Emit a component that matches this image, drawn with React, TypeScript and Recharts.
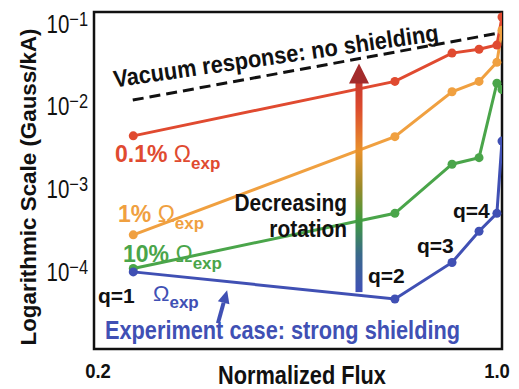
import React from "react";
import {
  LineChart,
  Line,
  XAxis,
  YAxis,
  ReferenceArea,
  ReferenceLine,
} from "recharts";

// normalized flux positions of the rational surfaces
const flux = [0.277, 0.79, 0.902, 0.955, 0.99, 1.0];

// response per rotation case (Gauss/kA)
const rot01 = [4.4e-3, 2.0e-2, 4.4e-2, 4.9e-2, 5.5e-2, 0.12];
const rot1 = [2.8e-4, 4.3e-3, 1.5e-2, 2.0e-2, 3.4e-2, 8.3e-2];
const rot10 = [1.1e-4, 5.1e-4, 2.0e-3, 2.4e-3, 1.9e-2, 1.6e-2];
const rotExp = [1.0e-4, 4.7e-5, 1.3e-4, 3.1e-4, 5.1e-4, 3.8e-3];

// vacuum (no shielding) reference
const vacuumFlux = [0.276, 0.995];
const vacuumVals = [1.19e-2, 7.7e-2];

const yTicks = [1e-4, 1e-3, 1e-2, 1e-1];
const yExponents = ["4", "3", "2", "1"];
const xTicks = [0.2, 1.0];
const xTickLabels = ["0.2", "1.0"];
const yDomain = [1.17e-5, 0.138];
const xDomain = [0.2, 1.0];

// annotation arrows (flux, value)
const bigArrow = { x: 0.7196, yFrom: 5.7e-5, yTo: 3.3e-2 };
const expArrow = { xFrom: 0.443, yFrom: 2.4e-5, xTo: 0.461, yTo: 6.0e-5 };

const FONT = "'Liberation Sans', Arial, sans-serif";

const RED = "#e04a30";
const ORANGE = "#f0a040";
const GREEN = "#4aa54a";
const BLUE = "#4050b4";

const toPoints = (xs: number[], ys: number[]) =>
  xs.map((x, i) => ({ x, y: ys[i] }));

// bold text squeezed horizontally, to get the condensed look of the figure
const NText = ({ x, y, sx = 0.85, size, fill = "#111", anchor = "start", rotate = 0, weight = "bold", children }: any) => (
  <text
    transform={`translate(${x} ${y}) rotate(${rotate}) scale(${sx} 1)`}
    fontFamily={FONT}
    fontWeight={weight}
    fontSize={size}
    fill={fill}
    textAnchor={anchor}
  >
    {children}
  </text>
);

const YTick = (props: any) => {
  const { x, y, index } = props;
  return (
    <NText x={x - 4} y={y + 9} size={25} sx={0.82} anchor="end" weight="normal">
      10
      <tspan fontSize={20} dy={-7}>
        {"\u2212" + yExponents[index]}
      </tspan>
    </NText>
  );
};

const XTick = (props: any) => {
  const { x, y, index } = props;
  const shift = index === 0 ? 4 : -5;
  return (
    <NText x={x + shift} y={y + 21} size={21} sx={0.88} anchor="middle">
      {xTickLabels[index]}
    </NText>
  );
};

const BigArrowShape = (props: any) => {
  const { x1, y1, y2 } = props;
  const top = Math.min(y1, y2);
  const bottom = Math.max(y1, y2);
  const head = 20;
  return (
    <g>
      <rect
        x={x1 - 3.5}
        y={top + head - 1}
        width={7}
        height={bottom - top - head + 1}
        fill="url(#rotGrad)"
      />
      <polygon
        points={`${x1},${top} ${x1 - 10},${top + head} ${x1 + 10},${top + head}`}
        fill="#a32b2b"
      />
    </g>
  );
};

const ExpArrowShape = (props: any) => {
  const { x1, y1, x2, y2 } = props;
  const dx = x2 - x1;
  const dy = y2 - y1;
  const len = Math.sqrt(dx * dx + dy * dy);
  const ux = dx / len;
  const uy = dy / len;
  const hl = 13;
  const hw = 6;
  const bx = x2 - ux * hl;
  const by = y2 - uy * hl;
  return (
    <g>
      <line x1={x1} y1={y1} x2={bx} y2={by} stroke={BLUE} strokeWidth={4} />
      <polygon
        points={`${x2},${y2} ${bx - uy * hw},${by + ux * hw} ${bx + uy * hw},${by - ux * hw}`}
        fill={BLUE}
      />
    </g>
  );
};

const txt = {
  fontFamily: FONT,
  fontWeight: "bold" as const,
};

export default function App() {
  return (
    <div
      style={{
        position: "absolute",
        left: 0,
        top: 0,
        width: 519,
        height: 389,
        background: "#fff",
      }}
    >
      <LineChart
        width={519}
        height={389}
        margin={{ top: 12, right: 17, left: 0, bottom: 0 }}
      >
        <defs>
          <linearGradient id="rotGrad" x1="0" y1="0" x2="0" y2="1">
            <stop offset="0" stopColor="#c83a2e" />
            <stop offset="0.12" stopColor="#dc4a2e" />
            <stop offset="0.33" stopColor="#e8922c" />
            <stop offset="0.5" stopColor="#9a8a2a" />
            <stop offset="0.66" stopColor="#3f9a3f" />
            <stop offset="0.82" stopColor="#3a6a8a" />
            <stop offset="1" stopColor="#4050b8" />
          </linearGradient>
        </defs>
        <XAxis
          dataKey="x"
          type="number"
          domain={xDomain}
          ticks={xTicks}
          tick={<XTick />}
          tickLine={false}
          axisLine={false}
          height={40}
          allowDataOverflow
        />
        <YAxis
          type="number"
          scale="log"
          domain={yDomain}
          ticks={yTicks}
          tick={<YTick />}
          tickLine={false}
          axisLine={false}
          tickSize={0}
          width={94}
          allowDataOverflow
        />
        <ReferenceArea
          x1={xDomain[0]}
          x2={xDomain[1]}
          y1={yDomain[0]}
          y2={yDomain[1]}
          fill="none"
          stroke="#111"
          strokeWidth={2.5}
          ifOverflow="visible"
        />
        <Line
          data={toPoints(vacuumFlux, vacuumVals)}
          dataKey="y"
          stroke="#111"
          strokeWidth={3}
          strokeDasharray="11 6"
          dot={false}
          isAnimationActive={false}
        />
        <Line
          data={toPoints(flux, rot01)}
          dataKey="y"
          stroke={RED}
          strokeWidth={3}
          dot={{ r: 4.5, fill: RED, stroke: RED, strokeWidth: 0 }}
          isAnimationActive={false}
        />
        <Line
          data={toPoints(flux, rot1)}
          dataKey="y"
          stroke={ORANGE}
          strokeWidth={3}
          dot={{ r: 4.5, fill: ORANGE, stroke: ORANGE, strokeWidth: 0 }}
          isAnimationActive={false}
        />
        <Line
          data={toPoints(flux, rot10)}
          dataKey="y"
          stroke={GREEN}
          strokeWidth={3}
          dot={{ r: 4.5, fill: GREEN, stroke: GREEN, strokeWidth: 0 }}
          isAnimationActive={false}
        />
        <Line
          data={toPoints(flux, rotExp)}
          dataKey="y"
          stroke={BLUE}
          strokeWidth={3}
          dot={{ r: 4.5, fill: BLUE, stroke: BLUE, strokeWidth: 0 }}
          isAnimationActive={false}
        />
        <ReferenceLine
          segment={[
            { x: bigArrow.x, y: bigArrow.yFrom },
            { x: bigArrow.x, y: bigArrow.yTo },
          ]}
          shape={<BigArrowShape />}
          ifOverflow="visible"
        />
        <ReferenceLine
          segment={[
            { x: expArrow.xFrom, y: expArrow.yFrom },
            { x: expArrow.xTo, y: expArrow.yTo },
          ]}
          shape={<ExpArrowShape />}
          ifOverflow="visible"
        />
      </LineChart>

      {/* text annotations */}
      <svg
        width={519}
        height={389}
        style={{ position: "absolute", left: 0, top: 0, pointerEvents: "none" }}
      >
        <text
          {...txt}
          x={277}
          y={64}
          fontSize={24}
          textAnchor="middle"
          fill="#111"
          textLength={328}
          lengthAdjust="spacingAndGlyphs"
          transform="rotate(-8.2 277 64)"
        >
          Vacuum response: no shielding
        </text>

        <text {...txt} x={115} y={162} fontSize={23} fill={RED}>
          0.1%{" "}
          <tspan fontWeight="normal">Ω</tspan>
          <tspan fontSize={17} dy={7}>
            exp
          </tspan>
        </text>
        <text {...txt} x={118} y={222} fontSize={23} fill={ORANGE}>
          1%{" "}
          <tspan fontWeight="normal">Ω</tspan>
          <tspan fontSize={17} dy={7}>
            exp
          </tspan>
        </text>
        <text {...txt} x={123} y={262} fontSize={23} fill={GREEN}>
          10%{" "}
          <tspan fontWeight="normal">Ω</tspan>
          <tspan fontSize={17} dy={7}>
            exp
          </tspan>
        </text>
        <text {...txt} x={153} y={301} fontSize={22} fill={BLUE}>
          <tspan fontWeight="normal">Ω</tspan>
          <tspan fontSize={17} dy={7}>
            exp
          </tspan>
        </text>

        <NText x={347} y={211} size={24} sx={0.87} anchor="end">
          Decreasing
        </NText>
        <NText x={347} y={237} size={24} sx={0.87} anchor="end">
          rotation
        </NText>

        <text {...txt} x={98} y={303} fontSize={21} fill="#111">
          q=1
        </text>
        <text {...txt} x={368} y={283} fontSize={21} fill="#111">
          q=2
        </text>
        <text {...txt} x={417} y={253} fontSize={21} fill="#111">
          q=3
        </text>
        <text {...txt} x={453} y={218} fontSize={21} fill="#111">
          q=4
        </text>

        <text
          {...txt}
          x={105}
          y={339}
          fontSize={25}
          fill={BLUE}
          textLength={355}
          lengthAdjust="spacingAndGlyphs"
        >
          Experiment case: strong shielding
        </text>

        <NText x={302} y={384} size={25} sx={0.87} anchor="middle">
          Normalized Flux
        </NText>
        <text
          {...txt}
          x={36}
          y={187}
          fontSize={22}
          textAnchor="middle"
          fill="#111"
          textLength={317}
          lengthAdjust="spacingAndGlyphs"
          transform="rotate(-90 36 187)"
        >
          Logarithmic Scale (Gauss/kA)
        </text>
      </svg>
    </div>
  );
}
